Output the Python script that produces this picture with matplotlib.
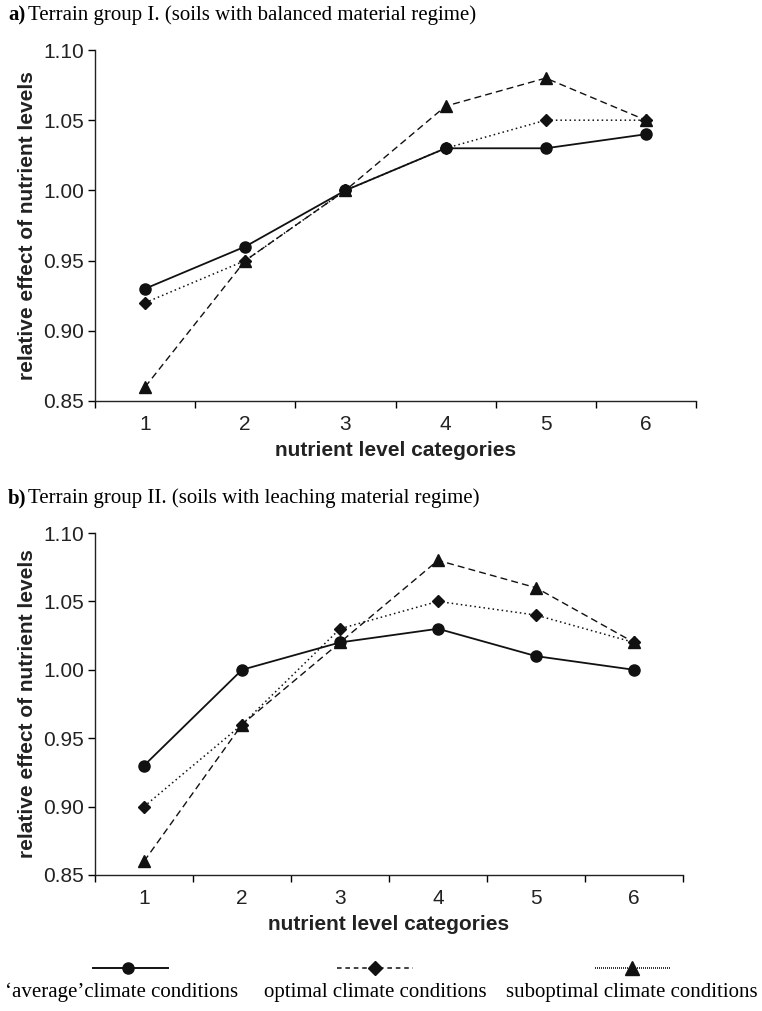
import matplotlib
matplotlib.use("Agg")
import matplotlib.pyplot as plt
from matplotlib.lines import Line2D

categories = [1, 2, 3, 4, 5, 6]
yticks = [0.85, 0.90, 0.95, 1.00, 1.05, 1.10]

a_average = [0.93, 0.96, 1.00, 1.03, 1.03, 1.04]
a_optimal = [0.92, 0.95, 1.00, 1.03, 1.05, 1.05]
a_suboptimal = [0.86, 0.95, 1.00, 1.06, 1.08, 1.05]

b_average = [0.93, 1.00, 1.02, 1.03, 1.01, 1.00]
b_optimal = [0.90, 0.96, 1.03, 1.05, 1.04, 1.02]
b_suboptimal = [0.86, 0.96, 1.02, 1.08, 1.06, 1.02]

legend_labels = ["\u2018average\u2019climate conditions", "optimal climate conditions",
                 "suboptimal climate conditions"]

W, H = 762, 1011
fig = plt.figure(figsize=(W / 100, H / 100), dpi=100)

sans = "Liberation Sans"
serif = "Liberation Serif"
FS = 15


def make_axes(rect_px, avg, opt, sub):
    l, t, r, b = rect_px
    ax = fig.add_axes([l / W, 1 - b / H, (r - l) / W, (b - t) / H])
    ax.plot(categories, avg, color="#111111", lw=1.3, ls="-", marker="o", ms=8, zorder=3)
    ax.plot(categories, opt, color="#111111", lw=1.1, ls=(0, (1, 2)), marker="D", ms=6.5, zorder=3)
    ax.plot(categories, sub, color="#111111", lw=1.0, ls=(0, (5, 3)), marker="^", ms=9, zorder=3)
    ax.set_xlim(0.5, 6.5)
    ax.set_ylim(0.85, 1.10)
    ax.set_yticks(yticks)
    ax.set_yticklabels([f"{v:.2f}" for v in yticks], fontfamily=sans, fontsize=FS, color="#222222")
    ax.set_xticks(categories)
    ax.set_xticklabels([str(c) for c in categories], fontfamily=sans, fontsize=FS, color="#222222")
    ax.set_xticks([c - 0.5 for c in categories] + [6.5], minor=True)
    ax.tick_params(axis="x", which="major", length=0, pad=10)
    ax.tick_params(axis="x", which="minor", length=5, width=1, direction="out")
    ax.tick_params(axis="y", which="major", length=5, width=1, direction="out", pad=3)
    for s in ["top", "right"]:
        ax.spines[s].set_visible(False)
    for s in ["left", "bottom"]:
        ax.spines[s].set_linewidth(1.0)
        ax.spines[s].set_color("#222222")
    ax.set_xlabel("nutrient level categories", fontfamily=sans, fontsize=FS,
                  fontweight="bold", labelpad=5, color="#222222")
    ax.set_ylabel("relative effect of nutrient levels", fontfamily=sans, fontsize=FS,
                  fontweight="bold", labelpad=4, color="#222222")
    return ax


ax1 = make_axes((95, 50, 696, 401), a_average, a_optimal, a_suboptimal)
ax2 = make_axes((95, 533, 683, 875), b_average, b_optimal, b_suboptimal)

fig.text(8 / W, 1 - 15 / H, "a)", fontfamily=serif, fontsize=FS, fontweight="bold", va="center")
fig.text(28 / W, 1 - 15 / H, "Terrain group I. (soils with balanced material regime)",
         fontfamily=serif, fontsize=FS, va="center")
fig.text(8 / W, 1 - 498 / H, "b)", fontfamily=serif, fontsize=FS, fontweight="bold", va="center")
fig.text(28 / W, 1 - 498 / H, "Terrain group II. (soils with leaching material regime)",
         fontfamily=serif, fontsize=FS, va="center")

# legend (drawn in figure pixel coordinates)
leg = fig.add_axes([0, 0, 1, 1])
leg.set_xlim(0, W)
leg.set_ylim(H, 0)
leg.axis("off")
legend_specs = [
    (93, 168, 128, "-", "o", 8, 1.4, 122),
    (337, 413, 375, (0, (3, 2.5)), "D", 7, 1.1, 375),
    (595, 670, 632, (0, (0.6, 0.6)), "^", 10, 1.2, 632),
]
for (x0, x1, xm, ls, mk, ms, lw, xt), lab in zip(legend_specs, legend_labels):
    leg.add_line(Line2D([x0, x1], [968, 968], color="#111111", ls=ls, lw=lw))
    leg.add_line(Line2D([xm], [968], color="#111111", marker=mk, ms=ms, ls="none"))
    leg.text(xt, 992, lab, fontfamily=serif, fontsize=FS, ha="center", va="center")

fig.savefig("out.png", dpi=100)
